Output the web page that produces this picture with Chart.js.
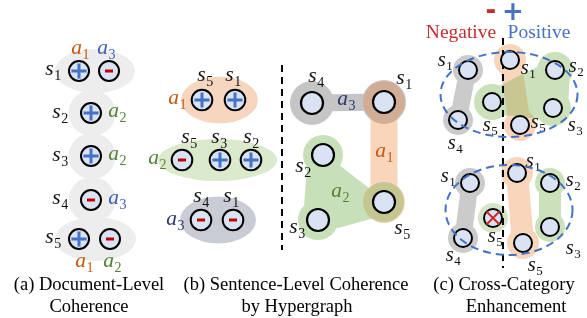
<!DOCTYPE html>
<html><head><meta charset="utf-8">
<script src="https://cdn.jsdelivr.net/npm/chart.js@4.4.1/dist/chart.umd.min.js"></script>
<style>html,body{margin:0;padding:0;background:#fff;overflow:hidden}#c{display:block}</style>
</head><body>
<canvas id="c" width="587" height="318"></canvas>
<script>
// ---------- DATA ----------
// (a) document-level: sentence nodes with polarity
const docNodes = [
  {x:79,y:71,sign:'+'},{x:109,y:71,sign:'-'},
  {x:91,y:113,sign:'+'},
  {x:91,y:156,sign:'+'},
  {x:91,y:200,sign:'-'},
  {x:79,y:239,sign:'+'},{x:110,y:239,sign:'-'}
];
const docSentenceGroups = [[0,1],[2],[3],[4],[5,6]];
const docLabels = [
  {b:'s',n:'1',x:53,y:71,c:'k'},{b:'s',n:'2',x:60,y:114,c:'k'},{b:'s',n:'3',x:60,y:157,c:'k'},
  {b:'s',n:'4',x:60,y:200,c:'k'},{b:'s',n:'5',x:53,y:239,c:'k'},
  {b:'a',n:'1',x:80,y:50,c:'a1'},{b:'a',n:'3',x:106,y:50,c:'a3'},
  {b:'a',n:'2',x:117,y:113,c:'a2'},{b:'a',n:'2',x:117,y:156,c:'a2'},{b:'a',n:'3',x:117,y:200,c:'a3'},
  {b:'a',n:'1',x:84,y:263,c:'a1'},{b:'a',n:'2',x:112,y:263,c:'a2'}
];

// (b) sentence-level: aspect groups and hypergraph
const listNodes = [
  {x:202,y:100,sign:'+'},{x:235,y:100,sign:'+'},
  {x:182,y:160,sign:'-'},{x:220,y:160,sign:'+'},{x:251,y:160,sign:'+'},
  {x:201,y:220,sign:'-'},{x:233,y:220,sign:'-'}
];
const listGroups = [{aspect:'a1',nodes:[0,1]},{aspect:'a2',nodes:[2,3,4]},{aspect:'a3',nodes:[5,6]}];
const listLabels = [
  {b:'s',n:'5',x:205,y:77,c:'k'},{b:'s',n:'1',x:233,y:77,c:'k'},{b:'a',n:'1',x:177,y:100,c:'a1'},
  {b:'s',n:'5',x:189,y:139,c:'k'},{b:'s',n:'3',x:219,y:139,c:'k'},{b:'s',n:'2',x:251,y:139,c:'k'},
  {b:'a',n:'2',x:157,y:160,c:'a2'},
  {b:'s',n:'4',x:201,y:198,c:'k'},{b:'s',n:'1',x:231,y:198,c:'k'},{b:'a',n:'3',x:175,y:221,c:'a3n'}
];
// hypergraph nodes: s1..s5
const graphNodes = [{x:384,y:102},{x:323,y:155},{x:318,y:220},{x:312,y:103},{x:384,y:202}];
const graphEdges = [{aspect:'a3',nodes:[3,0]},{aspect:'a1',nodes:[0,4]},{aspect:'a2',nodes:[1,2,4]}];
const graphLabels = [
  {b:'s',n:'4',x:316,y:78,c:'k'},{b:'s',n:'1',x:404,y:80,c:'k'},{b:'a',n:'3',x:346,y:101,c:'a3n'},
  {b:'a',n:'1',x:384,y:153,c:'a1'},{b:'s',n:'2',x:303,y:168,c:'k'},{b:'a',n:'2',x:340,y:193,c:'a2'},
  {b:'s',n:'3',x:297,y:229,c:'k'},{b:'s',n:'5',x:402,y:230,c:'k'}
];

// (c) cross-category enhancement
const crossTopNodes = [
  {x:468,y:70},{x:458,y:120},{x:510,y:60},{x:520,y:125},{x:492,y:102},{x:555,y:70},{x:553,y:108}
];
const crossTopEdges = [{aspect:'a3',nodes:[0,1]},{aspect:'a1',nodes:[2,3]},{aspect:'a2',nodes:[4,5,6]}];
const crossBotNodes = [
  {x:470,y:183},{x:463,y:238},{x:493,y:218,removed:true},{x:517,y:173},{x:523,y:243},{x:550,y:183},{x:550,y:227}
];
const crossBotEdges = [{aspect:'a3',nodes:[0,1]},{aspect:'a2',nodes:[2]},{aspect:'a1',nodes:[3,4]},{aspect:'a2',nodes:[5,6]}];
const crossLabels = [
  {b:'s',n:'1',x:445,y:62,c:'k'},{b:'s',n:'4',x:455,y:145,c:'k'},{b:'s',n:'1',x:528,y:70,c:'k'},
  {b:'s',n:'5',x:538,y:124,c:'k'},{b:'s',n:'5',x:490,y:127,c:'k'},{b:'s',n:'2',x:576,y:68,c:'k'},
  {b:'s',n:'3',x:575,y:127,c:'k'},
  {b:'s',n:'1',x:448,y:178,c:'k'},{b:'s',n:'4',x:453,y:257,c:'k'},{b:'s',n:'5',x:495,y:238,c:'k'},
  {b:'s',n:'1',x:533,y:163,c:'k'},{b:'s',n:'5',x:535,y:267,c:'k'},{b:'s',n:'2',x:573,y:182,c:'k'},
  {b:'s',n:'3',x:573,y:250,c:'k'}
];
const polarityTexts = ['Negative','Positive'];
const captions = [
  {lines:['(a) Document-Level','Coherence'],x:[89,89]},
  {lines:['(b) Sentence-Level Coherence','by Hypergraph'],x:[296,297]},
  {lines:['(c) Cross-Category','Enhancement'],x:[504,516]}
];

// ---------- STYLE ----------
const textColors = {k:'#111111',a1:'#c55a11',a2:'#548235',a3:'#3f5fb0',a3n:'#2e3a6e'};
const flatFill = {a1:'#f7d6bf',a2:'#dbe9cc',a3:'#c9ccd4'};
const blobColor = {a1:'#ed7d31',a2:'#70ad47',a3:'#8c8c8c'};
const NODE_FILL = '#dae3f3';
const SERIF = '"Liberation Serif","Times New Roman",serif';

function subLabel(ctx, base, sub, cx, cy, color, size){
  const bf = 'italic ' + size + 'px ' + SERIF, sf = Math.round(size*0.64) + 'px ' + SERIF;
  ctx.font = bf; const wb = ctx.measureText(base).width;
  ctx.font = sf; const ws = ctx.measureText(sub).width;
  const x0 = cx - (wb + ws)/2, by = cy + size*0.2;
  ctx.fillStyle = color; ctx.textAlign = 'left'; ctx.textBaseline = 'alphabetic';
  ctx.font = bf; ctx.fillText(base, x0, by);
  ctx.font = sf; ctx.fillText(sub, x0 + wb + 0.5, by + size*0.2);
}

function blob(chart, pts, o){
  const off = document.createElement('canvas');
  off.width = chart.canvas.width; off.height = chart.canvas.height;
  const g = off.getContext('2d');
  g.fillStyle = g.strokeStyle = o.color; g.lineCap = 'round'; g.lineJoin = 'round';
  if (pts.length === 3){
    g.beginPath(); g.moveTo(pts[0][0],pts[0][1]); g.lineTo(pts[1][0],pts[1][1]); g.lineTo(pts[2][0],pts[2][1]); g.closePath(); g.fill();
    (o.links||[]).forEach(l=>{ g.lineWidth = l[2]; g.beginPath(); g.moveTo(pts[l[0]][0],pts[l[0]][1]); g.lineTo(pts[l[1]][0],pts[l[1]][1]); g.stroke(); });
  } else if (pts.length === 2){
    g.lineWidth = o.band; g.beginPath(); g.moveTo(pts[0][0],pts[0][1]); g.lineTo(pts[1][0],pts[1][1]); g.stroke();
  }
  pts.forEach(p=>{ g.beginPath(); g.arc(p[0],p[1],o.lobe,0,Math.PI*2); g.fill(); });
  const ctx = chart.ctx; ctx.save(); ctx.globalAlpha = o.alpha;
  ctx.drawImage(off,0,0,chart.width,chart.height); ctx.restore();
}

const diagram = {
  id:'diagram',
  beforeDatasetsDraw(chart){
    const ctx = chart.ctx, sx = chart.scales.x, sy = chart.scales.y;
    const P = n => [sx.getPixelForValue(n.x), sy.getPixelForValue(n.y)];
    const ell = (nodes, padX, ry, color) => {
      const ps = nodes.map(P), xs = ps.map(p=>p[0]), ys = ps.map(p=>p[1]);
      const cx = (Math.min(...xs)+Math.max(...xs))/2, cy = ys.reduce((a,b)=>a+b,0)/ys.length;
      ctx.beginPath(); ctx.ellipse(cx + 1, cy, (Math.max(...xs)-Math.min(...xs))/2 + padX, ry, 0, 0, Math.PI*2);
      ctx.fillStyle = color; ctx.fill();
    };
    ctx.save();
    docSentenceGroups.forEach(g => ell(g.map(i=>docNodes[i]), g.length>1?25:23.5, g.length>1?22:23, '#ededed'));
    listGroups.forEach(g => ell(g.nodes.map(i=>listNodes[i]), g.nodes.length>2?25:22, g.nodes.length>2?21:23.5, flatFill[g.aspect]));
    ctx.restore();

    // hypergraph blobs
    const gStyle = {
      a3:{lobe:22,band:17,alpha:0.5},
      a1:{lobe:21,band:27,alpha:0.32},
      a2:{lobe:20,alpha:0.38,links:[[0,1,30],[1,2,26],[0,2,4]]}
    };
    graphEdges.forEach(e => blob(chart, e.nodes.map(i=>P(graphNodes[i])), Object.assign({color:blobColor[e.aspect]}, gStyle[e.aspect])));
    const cTop = {
      a3:{lobe:15,band:17,alpha:0.45},
      a1:{lobe:16,band:22,alpha:0.32},
      a2:{lobe:18,alpha:0.36,links:[[0,1,22],[0,2,24],[1,2,30]]}
    };
    crossTopEdges.forEach(e => blob(chart, e.nodes.map(i=>P(crossTopNodes[i])), Object.assign({color:blobColor[e.aspect]}, cTop[e.aspect])));
    const cBot = {
      a3:{lobe:15,band:17,alpha:0.45},
      a1:{lobe:16,band:22,alpha:0.32},
      a2:{lobe:15,band:22,alpha:0.36}
    };
    crossBotEdges.forEach(e => blob(chart, e.nodes.map(i=>P(crossBotNodes[i])), Object.assign({color:blobColor[e.aspect]}, cBot[e.aspect], e.nodes.length===1?{lobe:15,alpha:0.3}:{})));

    // dashed separators
    ctx.save(); ctx.strokeStyle = '#000'; ctx.lineWidth = 2; ctx.setLineDash([7,5]);
    [[282,65,250],[503,38,268]].forEach(s=>{
      ctx.beginPath(); ctx.moveTo(sx.getPixelForValue(s[0]), sy.getPixelForValue(s[1]));
      ctx.lineTo(sx.getPixelForValue(s[0]), sy.getPixelForValue(s[2])); ctx.stroke();
    });
    ctx.restore();
  },
  afterDatasetsDraw(chart){
    const ctx = chart.ctx, sx = chart.scales.x, sy = chart.scales.y;
    const P = n => [sx.getPixelForValue(n.x), sy.getPixelForValue(n.y)];
    ctx.save();
    // polarity signs
    const drawSign = (n, r) => {
      const [x,y] = P(n);
      ctx.lineCap = 'butt';
      if (n.sign === '+'){
        ctx.strokeStyle = '#4472c4'; ctx.lineWidth = 3; const a = r*0.72;
        ctx.beginPath(); ctx.moveTo(x-a,y); ctx.lineTo(x+a,y); ctx.moveTo(x,y-a); ctx.lineTo(x,y+a); ctx.stroke();
      } else if (n.sign === '-'){
        ctx.strokeStyle = '#c00000'; ctx.lineWidth = 3; const a = r*0.38;
        ctx.beginPath(); ctx.moveTo(x-a,y); ctx.lineTo(x+a,y); ctx.stroke();
      }
      if (n.removed){
        ctx.strokeStyle = '#d02b2b'; ctx.lineWidth = 2; const a = r*0.72;
        ctx.beginPath(); ctx.moveTo(x-a,y-a); ctx.lineTo(x+a,y+a); ctx.moveTo(x+a,y-a); ctx.lineTo(x-a,y+a); ctx.stroke();
      }
    };
    docNodes.forEach(n=>drawSign(n,10.5));
    listNodes.forEach(n=>drawSign(n,10.5));
    crossBotNodes.forEach(n=>drawSign(n,9));

    // labels
    const lab = (L, size) => { const [x,y] = P(L); subLabel(ctx, L.b, L.n, x, y, textColors[L.c], size); };
    docLabels.forEach(L=>lab(L,21.5));
    listLabels.forEach(L=>lab(L,21.5));
    graphLabels.forEach(L=>lab(L,21.5));
    crossLabels.forEach(L=>lab(L,20.5));

    // group frames (c)
    const frame = nodes => {
      const ps = nodes.map(P), xs = ps.map(p=>p[0]), ys = ps.map(p=>p[1]);
      const cx = (Math.min(...xs)+Math.max(...xs))/2 + 2.5, cy = (Math.min(...ys)+Math.max(...ys))/2 + 2;
      ctx.beginPath(); ctx.ellipse(cx, cy, (Math.max(...xs)-Math.min(...xs))/2 + 20, (Math.max(...ys)-Math.min(...ys))/2 + 10, 0, 0, Math.PI*2);
      ctx.strokeStyle = '#4472c4'; ctx.lineWidth = 2; ctx.setLineDash([8,5]); ctx.stroke(); ctx.setLineDash([]);
    };
    frame(crossTopNodes); frame(crossBotNodes);

    // polarity header
    ctx.textAlign = 'center'; ctx.textBaseline = 'middle';
    ctx.font = 'bold 26px "DejaVu Sans",sans-serif';
    ctx.fillStyle = '#c0302b'; ctx.fillText('-', sx.getPixelForValue(491), sy.getPixelForValue(12));
    ctx.fillStyle = '#4472c4'; ctx.fillText('+', sx.getPixelForValue(513), sy.getPixelForValue(13));
    ctx.font = '19.5px ' + SERIF;
    ctx.fillStyle = '#c0302b'; ctx.fillText(polarityTexts[0], sx.getPixelForValue(461), sy.getPixelForValue(33));
    ctx.fillStyle = '#4472c4'; ctx.fillText(polarityTexts[1], sx.getPixelForValue(539), sy.getPixelForValue(33));

    // captions
    ctx.fillStyle = '#000'; ctx.font = '18.5px ' + SERIF;
    captions.forEach(c => c.lines.forEach((t,i)=> ctx.fillText(t, sx.getPixelForValue(c.x[i]), sy.getPixelForValue(285.5 + i*21.5))));
    ctx.restore();
  }
};

const nodeDs = (data, r, bw) => ({data, pointRadius:r, pointHoverRadius:r, pointBackgroundColor:NODE_FILL,
  pointBorderColor:'#000', pointBorderWidth:bw, pointHoverBorderWidth:bw, showLine:false, clip:false});

new Chart(document.getElementById('c'), {
  type:'scatter',
  data:{datasets:[
    nodeDs(docNodes, 10, 2),
    nodeDs(listNodes, 10.3, 2),
    nodeDs(graphNodes, 11, 2.2),
    nodeDs(crossTopNodes, 9, 2),
    nodeDs(crossBotNodes, 9, 2)
  ]},
  options:{
    responsive:false, animation:false, devicePixelRatio:1, events:[],
    layout:{padding:0, autoPadding:false},
    plugins:{legend:{display:false}, tooltip:{enabled:false}, title:{display:false}},
    scales:{
      x:{type:'linear', min:0, max:587, display:false},
      y:{type:'linear', min:0, max:318, reverse:true, display:false}
    }
  },
  plugins:[diagram]
});
</script>
</body></html>
